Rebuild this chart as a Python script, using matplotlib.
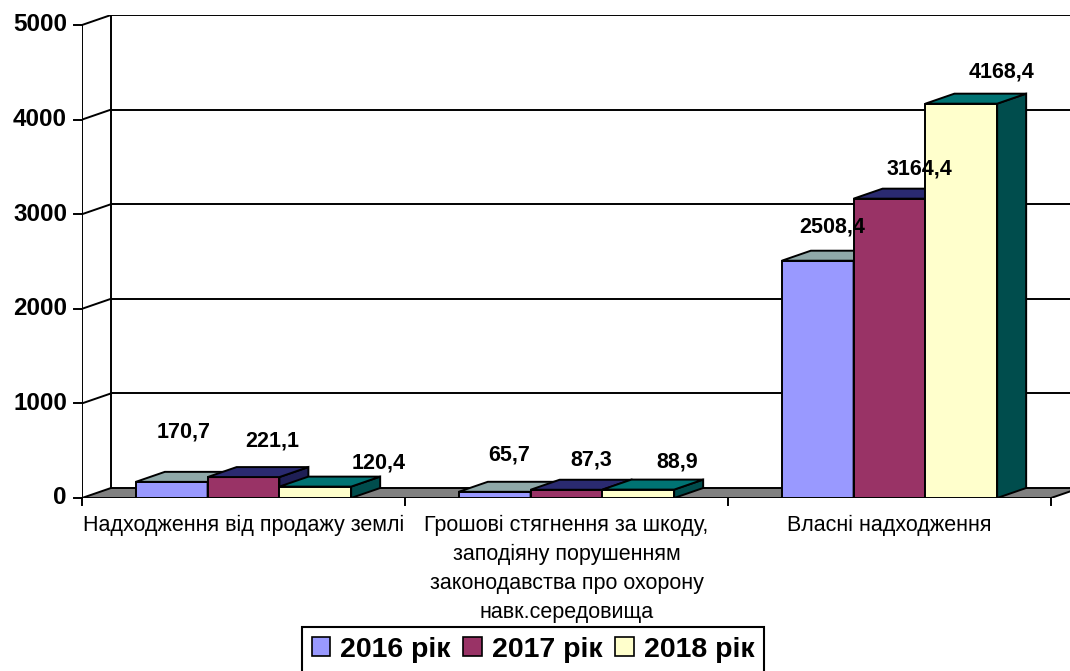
import matplotlib
matplotlib.use("Agg")
import matplotlib.pyplot as plt
from matplotlib.patches import Polygon, Patch

plt.rcParams['font.family'] = ['Liberation Sans', 'DejaVu Sans']

# ---------------- data ----------------
categories = [
    "Надходження від продажу землі",
    "Грошові стягнення за шкоду,\nзаподіяну порушенням\nзаконодавства про охорону\nнавк.середовища",
    "Власні надходження",
]
series_names = ["2016 рік", "2017 рік", "2018 рік"]
values_2016 = [170.7, 65.7, 2508.4]
values_2017 = [221.1, 87.3, 3164.4]
values_2018 = [120.4, 88.9, 4168.4]
y_ticks = [0, 1000, 2000, 3000, 4000, 5000]

# ---------------- style ----------------
front_colors = ["#9999FF", "#993366", "#FFFFCC"]
top_colors = ["#8FA8A8", "#2A2A70", "#007373"]
side_colors = ["#6E8080", "#1F1F55", "#004D4D"]
# label offsets in pixels (dx from bar centre, dy above bar top)
label_dx = [[12, 29, 63], [14, 25, 39], [14, 30, 40]]
label_dy = [[50, 36, 24], [37, 30, 28], [34, 30, 32]]

W, H = 1070, 671
X0, Y0, YTOP = 82, 498, 15
PX_CAT = 323.0
PX_PER_UNIT = 94.6 / 1000.0

fig = plt.figure(figsize=(W / 100, H / 100), dpi=100)
ax = fig.add_axes([X0 / W, (H - Y0) / H, (W - X0) / W, (Y0 - YTOP) / H])
ax.set_xlim(0, (W - X0) / PX_CAT)
ax.set_ylim(0, (Y0 - YTOP) / PX_PER_UNIT)
ax.axis('off')

def px2x(p):
    return p / PX_CAT

def px2y(p):
    return p / PX_PER_UNIT

DX = px2x(29)
DY = px2y(10)
ymax = y_ticks[-1]
ncat = len(categories)
lw = 1.4

# back wall gridlines and left wall diagonals
for v in y_ticks[1:]:
    ax.plot([DX, ax.get_xlim()[1] + 1], [v + DY, v + DY], color='black', lw=lw, zorder=1)
    ax.plot([0, DX], [v, v + DY], color='black', lw=lw, zorder=1)
    ax.plot([px2x(-8), 0], [v, v], color='black', lw=lw, zorder=1, clip_on=False)
ax.plot([px2x(-8), 0], [0, 0], color='black', lw=lw, zorder=1, clip_on=False)
ax.plot([0, 0], [0, ymax], color='black', lw=lw, zorder=1)
ax.plot([DX, DX], [DY, ymax + DY], color='black', lw=lw, zorder=1)

# floor
floor = Polygon([(0, 0), (ncat, 0), (ncat + DX, DY), (DX, DY)], closed=True,
                facecolor='#808080', edgecolor='black', lw=lw, zorder=2)
ax.add_patch(floor)

# category separator ticks
for i in range(ncat + 1):
    ax.plot([i, i], [0, px2y(-7)], color='black', lw=lw, clip_on=False, zorder=2)

# y tick labels
for v in y_ticks:
    ax.text(px2x(-15), v, f"{v}", ha='right', va='center', fontsize=17.5,
            fontweight='bold', color='black')

# bars
all_vals = [values_2016, values_2017, values_2018]
bw = 1 / 4.5
gap = 0.75 * bw
z = 3
for i in range(ncat):
    for j in range(3):
        v = all_vals[j][i]
        left = i + gap + j * bw
        ax.bar(left, v, width=bw, align='edge', color=front_colors[j],
               edgecolor='black', linewidth=lw, zorder=z)
        top = Polygon([(left, v), (left + bw, v), (left + bw + DX, v + DY), (left + DX, v + DY)],
                      closed=True, facecolor=top_colors[j], edgecolor='black', lw=lw, zorder=z)
        side = Polygon([(left + bw, 0), (left + bw + DX, DY), (left + bw + DX, v + DY), (left + bw, v)],
                       closed=True, facecolor=side_colors[j], edgecolor='black', lw=lw, zorder=z)
        ax.add_patch(side)
        ax.add_patch(top)
        z += 1
        lx = left + bw / 2 + px2x(label_dx[i][j])
        ly = v + px2y(label_dy[i][j])
        ax.text(lx, ly, f"{v:.1f}".replace('.', ','), ha='center', va='center',
                fontsize=15.5, fontweight='bold', color='black', zorder=50)

# category labels
for i, c in enumerate(categories):
    ax.text(i + 0.5, px2y(-17), c, ha='center', va='top', fontsize=15.5,
            color='black', linespacing=1.5, clip_on=False)

# legend
handles = [Patch(facecolor=front_colors[j], edgecolor='black', linewidth=1.2) for j in range(3)]
leg = fig.legend(handles, series_names, loc='upper center', bbox_to_anchor=(533 / W, 1 - 627 / H),
                 ncol=3, frameon=True, fancybox=False, framealpha=1, edgecolor='black',
                 prop={'weight': 'bold', 'size': 20.5}, handlelength=0.65, handleheight=0.65,
                 handletextpad=0.35, columnspacing=0.45, borderpad=0.35, borderaxespad=0)
leg.get_frame().set_linewidth(1.5)

fig.savefig("out.png", dpi=100)
